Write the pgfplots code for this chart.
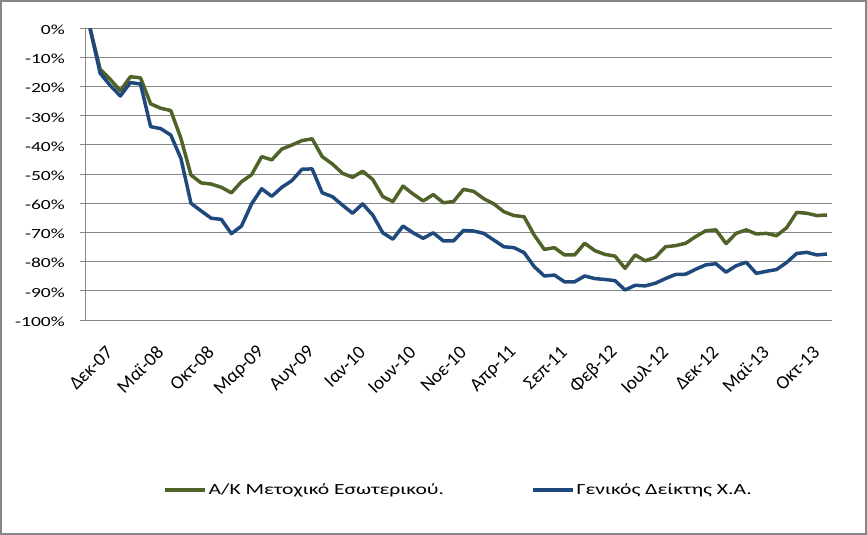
\documentclass[border=0pt]{standalone}
\usepackage{fontspec}
\setmainfont[FakeStretch=1.4]{Carlito}
\newfontfamily\xfont{Carlito}
\usepackage{pgfplots}
\usepackage{pgfplotstable}
\pgfplotsset{compat=1.18}
\definecolor{grn}{RGB}{79,98,40}
\definecolor{blu}{RGB}{31,73,125}
\definecolor{grd}{RGB}{134,134,134}
\pgfplotstableread{
i g b
0 0 0
1 -14.0 -15.4
2 -17.5 -19.6
3 -21.4 -23.2
4 -16.6 -18.6
5 -17.0 -19.1
6 -25.9 -33.7
7 -27.4 -34.4
8 -28.2 -36.6
9 -37.7 -44.6
10 -50.3 -60.0
11 -53.0 -62.6
12 -53.4 -65.1
13 -54.5 -65.5
14 -56.4 -70.4
15 -52.6 -67.8
16 -50.2 -60.2
17 -44.0 -55.0
18 -45.1 -57.6
19 -41.4 -54.5
20 -40.0 -52.2
21 -38.5 -48.3
22 -37.9 -48.2
23 -44.0 -56.4
24 -46.5 -57.7
25 -49.7 -60.6
26 -51.1 -63.4
27 -49.0 -60.2
28 -51.8 -64.0
29 -57.7 -70.1
30 -59.4 -72.3
31 -54.1 -67.8
32 -56.8 -70.1
33 -59.2 -72.0
34 -57.0 -70.1
35 -59.8 -72.9
36 -59.4 -72.9
37 -55.2 -69.3
38 -55.9 -69.5
39 -58.4 -70.3
40 -60.2 -72.6
41 -62.9 -74.9
42 -64.2 -75.2
43 -64.6 -76.9
44 -70.9 -81.7
45 -75.8 -84.9
46 -75.2 -84.6
47 -77.7 -86.9
48 -77.7 -86.9
49 -73.7 -84.9
50 -76.2 -85.8
51 -77.5 -86.1
52 -78.1 -86.5
53 -82.3 -89.7
54 -77.7 -88.1
55 -79.7 -88.3
56 -78.5 -87.4
57 -74.9 -85.8
58 -74.5 -84.4
59 -73.7 -84.3
60 -71.4 -82.6
61 -69.4 -81.1
62 -69.1 -80.7
63 -73.8 -83.6
64 -70.3 -81.4
65 -69.1 -80.2
66 -70.5 -84.0
67 -70.3 -83.3
68 -71.1 -82.7
69 -68.4 -80.3
70 -63.1 -77.2
71 -63.4 -76.8
72 -64.2 -77.7
73 -64.0 -77.4
}\datatable
\begin{document}
\begin{tikzpicture}
\useasboundingbox (0,0) rectangle (867bp,-535bp);
\draw[grd, line width=2bp] (1bp,-1bp) rectangle (866bp,-534bp);
\begin{axis}[
  at={(85bp,-320bp)}, anchor=south west,
  scale only axis, width=747bp, height=291.7bp,
  xmin=-0.5, xmax=73.5, ymin=-100, ymax=0,
  axis x line*=bottom, axis y line*=left,
  axis line style={grd, line width=1bp, -},
  xtick={0,5,...,70},
  xticklabels={Δεκ-07,Μαϊ-08,Οκτ-08,Μαρ-09,Αυγ-09,Ιαν-10,Ιουν-10,Νοε-10,Απρ-11,Σεπ-11,Φεβ-12,Ιουλ-12,Δεκ-12,Μαϊ-13,Οκτ-13},
  x tick style={draw=none},
  xticklabel style={rotate=45, anchor=east, inner sep=0pt, yshift=-31bp, xshift=-3bp, font=\xfont\fontsize{19}{21}\selectfont},
  ytick={-100,-90,...,0},
  yticklabels={-100\%,-90\%,-80\%,-70\%,-60\%,-50\%,-40\%,-30\%,-20\%,-10\%,0\%},
  ymajorgrids, grid style={grd, line width=1bp},
  tick align=outside, major tick length=5bp,
  y tick style={grd, line width=1bp},
  yticklabel style={font=\fontsize{14}{16}\selectfont, inner sep=0pt, xshift=-15bp, yshift=-1.5bp},
  legend columns=2,
  legend cell align=left,
  legend style={draw=none, fill=none, at={(0.1004,-0.5828)}, anchor=west,
    font=\fontsize{15.5}{18}\selectfont,
    /tikz/every even column/.append style={column sep=85bp}},
  legend image code/.code={\draw[#1, line width=3.5bp] (0bp,0bp) -- (40bp,0bp);},
]
\addplot[grn, line width=3.5bp, line join=round] table[x=i, y=g] {\datatable};
\addlegendentry{Α/Κ Μετοχικό Εσωτερικού.}
\addplot[blu, line width=3.5bp, line join=round] table[x=i, y=b] {\datatable};
\addlegendentry{Γενικός Δείκτης Χ.Α.}
\end{axis}
\end{tikzpicture}
\end{document}
